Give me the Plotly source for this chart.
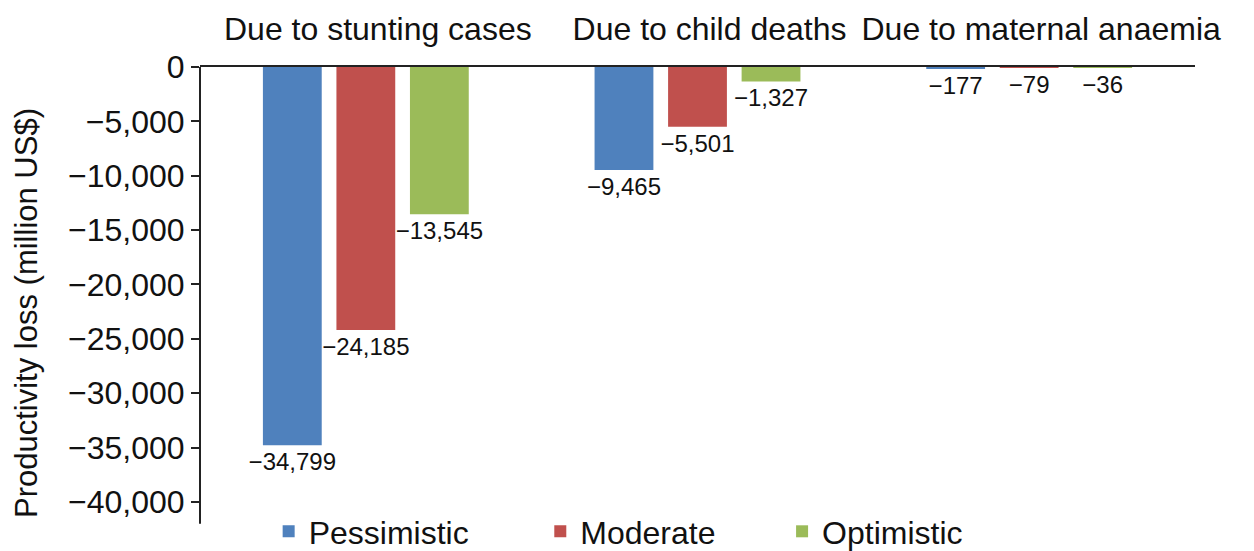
import plotly.graph_objects as go

categories = ["Due to stunting cases", "Due to child deaths", "Due to maternal anaemia"]
pessimistic = [-34799, -9465, -177]
moderate = [-24185, -5501, -79]
optimistic = [-13545, -1327, -36]
y_ticks = [0, -5000, -10000, -15000, -20000, -25000, -30000, -35000, -40000]
y_axis_bottom = -42000
y_range = [-45250, 0]

series = [
    ("Pessimistic", pessimistic, "#4F81BD", "legend", 0.069),
    ("Moderate", moderate, "#C0504D", "legend2", 0.342),
    ("Optimistic", optimistic, "#9BBB59", "legend3", 0.585),
]

def fmt(v):
    return ("\u2212" if v < 0 else "") + f"{abs(v):,}"

fig = go.Figure()
legends = {}
for name, vals, color, leg, lx in series:
    fig.add_trace(go.Bar(
        x=categories, y=vals, name=name, legend=leg,
        marker=dict(color=color, line=dict(width=0)),
        text=[fmt(v) for v in vals], textposition="outside",
        constraintext="none",
        textfont=dict(size=24, color="#111111", family="Liberation Sans, Arial"),
        cliponaxis=False,
    ))
    legends[leg] = dict(orientation="h", x=lx, y=0.0, xanchor="left", yanchor="bottom",
                        font=dict(size=32), bgcolor="rgba(0,0,0,0)", itemwidth=30)

fig.update_layout(
    width=1246, height=551,
    barmode="group", bargap=0.335, bargroupgap=0.2,
    plot_bgcolor="white", paper_bgcolor="white",
    font=dict(family="Liberation Sans, Arial", color="#111111"),
    margin=dict(l=192, r=59, t=59, b=0),
    showlegend=True,
    **legends,
)
# vertical axis line (stops just below the last tick, as in the original)
fig.add_shape(type="line", xref="paper", x0=0, x1=0, yref="y", y0=0, y1=y_axis_bottom,
              line=dict(color="#222222", width=2))
fig.update_xaxes(side="top", showline=True, linecolor="#222222", linewidth=2,
                 ticks="", tickfont=dict(size=32), showgrid=False, zeroline=False,
                 automargin=False, ticklabelstandoff=12, ticklabelshift=12)
fig.update_yaxes(range=y_range, tickvals=y_ticks,
                 ticktext=[fmt(v) for v in y_ticks],
                 showline=False,
                 ticks="outside", ticklen=8, tickcolor="#222222", tickwidth=1.5,
                 tickfont=dict(size=32), showgrid=False, zeroline=False,
                 automargin=False,
                 title=dict(text="Productivity loss (million US$)", font=dict(size=31), standoff=21))

fig.write_html("out.html")
